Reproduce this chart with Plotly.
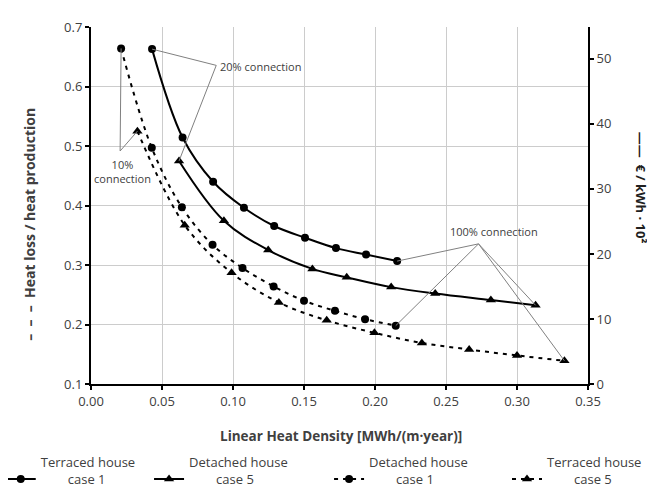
import plotly.graph_objects as go

# ---------------- data ----------------
x_terraced_c1 = [0.043, 0.0645, 0.086, 0.1077, 0.129, 0.1507, 0.1725, 0.1937, 0.2156]
cost_terraced_c1 = [51.5, 37.9, 31.1, 27.1, 24.3, 22.5, 20.9, 19.9, 18.9]

x_detached_c5 = [0.062, 0.0936, 0.1248, 0.1559, 0.1801, 0.2114, 0.2424, 0.2816, 0.3131]
cost_detached_c5 = [34.3, 25.1, 20.6, 17.7, 16.4, 14.9, 13.9, 12.9, 12.1]

x_detached_c1 = [0.0212, 0.0428, 0.064, 0.0856, 0.1067, 0.1286, 0.150, 0.1718, 0.193, 0.2146]
loss_detached_c1 = [0.664, 0.497, 0.397, 0.334, 0.295, 0.264, 0.240, 0.223, 0.209, 0.198]

x_terraced_c5 = [0.0327, 0.066, 0.099, 0.1323, 0.166, 0.1996, 0.233, 0.2663, 0.300, 0.3334]
loss_terraced_c5 = [0.525, 0.367, 0.287, 0.237, 0.207, 0.186, 0.169, 0.158, 0.148, 0.139]

series_names = ["Terraced house", "Detached house", "Detached house", "Terraced house"]
series_cases = ["case 1", "case 5", "case 1", "case 5"]

x_ticks = [0.00, 0.05, 0.10, 0.15, 0.20, 0.25, 0.30, 0.35]
left_ticks = [0.1, 0.2, 0.3, 0.4, 0.5, 0.6, 0.7]
right_ticks = [0, 10, 20, 30, 40, 50]

# ---------------- style ----------------
FONT = "Open Sans"
TXT = "#404040"
GRID = "#cccccc"
DASH = "4px,5px"
Y_RANGE = [0.1, 0.7]
Y2_RANGE = [0, 54.9]


def y2_to_y(v):
    return Y_RANGE[0] + (v - Y2_RANGE[0]) / (Y2_RANGE[1] - Y2_RANGE[0]) * (Y_RANGE[1] - Y_RANGE[0])


def label(i):
    pad = "\u00a0" * 8
    return f"{series_names[i]}<br>{pad}{series_cases[i]}"


fig = go.Figure()

fig.add_trace(go.Scatter(
    x=x_terraced_c1, y=cost_terraced_c1, yaxis="y2", name=label(0), legend="legend",
    mode="lines+markers", line=dict(color="black", width=2, shape="spline"),
    marker=dict(symbol="circle", size=8, color="black")))
fig.add_trace(go.Scatter(
    x=x_detached_c5, y=cost_detached_c5, yaxis="y2", name=label(1), legend="legend2",
    mode="lines+markers", line=dict(color="black", width=2, shape="spline"),
    marker=dict(symbol="triangle-up", size=9, color="black")))
fig.add_trace(go.Scatter(
    x=x_detached_c1, y=loss_detached_c1, yaxis="y", name=label(2), legend="legend3",
    mode="lines+markers", line=dict(color="black", width=2, dash=DASH, shape="spline"),
    marker=dict(symbol="circle", size=8, color="black")))
fig.add_trace(go.Scatter(
    x=x_terraced_c5, y=loss_terraced_c5, yaxis="y", name=label(3), legend="legend4",
    mode="lines+markers", line=dict(color="black", width=2, dash=DASH, shape="spline"),
    marker=dict(symbol="triangle-up", size=9, color="black")))

# ---------------- callout lines ----------------
shapes = []
callout = dict(color="#808080", width=1)

hub20 = (0.0882, 49.0)  # in x / y2 units
for xs, ys in [(x_terraced_c1, cost_terraced_c1), (x_detached_c5, cost_detached_c5)]:
    shapes.append(dict(type="line", xref="x", yref="y2", x0=hub20[0], y0=hub20[1],
                       x1=xs[0], y1=ys[0], line=callout))

hub10 = (0.0205, 0.4916)  # in x / y units
for xs, ys in [(x_detached_c1, loss_detached_c1), (x_terraced_c5, loss_terraced_c5)]:
    shapes.append(dict(type="line", xref="x", yref="y", x0=hub10[0], y0=hub10[1],
                       x1=xs[0], y1=ys[0], line=callout))

hub100 = (0.2729, 21.55)  # in x / y2 units
for xs, ys in [(x_terraced_c1, cost_terraced_c1), (x_detached_c5, cost_detached_c5)]:
    shapes.append(dict(type="line", xref="x", yref="y2", x0=hub100[0], y0=hub100[1],
                       x1=xs[-1], y1=ys[-1], line=callout))
for xs, ys in [(x_detached_c1, loss_detached_c1), (x_terraced_c5, loss_terraced_c5)]:
    shapes.append(dict(type="line", xref="x", yref="y", x0=hub100[0], y0=y2_to_y(hub100[1]),
                       x1=xs[-1], y1=ys[-1], line=callout))

afont = dict(family=FONT, size=11, color=TXT)
annotations = [
    dict(x=0.0896, y=0.6328, xref="x", yref="y", text="20% connection", showarrow=False,
         xanchor="left", yanchor="middle", font=afont),
    dict(x=0.0219, y=0.457, xref="x", yref="y", text="10%<br>connection", showarrow=False,
         xanchor="center", yanchor="middle", align="center", font=afont),
    dict(x=0.2835, y=0.3555, xref="x", yref="y", text="100% connection", showarrow=False,
         xanchor="center", yanchor="middle", font=afont),
    # axis titles
    dict(x=0.504, y=-0.147, xref="paper", yref="paper", text="Linear Heat Density [MWh/(m·year)]",
         showarrow=False, xanchor="center", yanchor="middle",
         font=dict(family=FONT, size=13.5, color=TXT, weight="bold")),
    dict(x=-0.1227, y=0.446, xref="paper", yref="paper", text="–  –  –  Heat loss / heat production",
         showarrow=False, xanchor="center", yanchor="middle", textangle=-90,
         font=dict(family=FONT, size=14, color=TXT, weight="bold")),
    dict(x=1.1066, y=0.55, xref="paper", yref="paper", text="——  € / kWh · 10²",
         showarrow=False, xanchor="center", yanchor="middle", textangle=90,
         font=dict(family=FONT, size=13, color="#202020", weight="bold")),
]

tickfont = dict(family=FONT, size=13, color=TXT)
legfont = dict(family=FONT, size=13, color=TXT)
leg_common = dict(orientation="v", xanchor="left", yanchor="top", y=-0.177,
                  bgcolor="rgba(0,0,0,0)", font=legfont, valign="bottom", borderwidth=0)

fig.update_layout(
    width=655, height=488,
    margin=dict(l=83, r=75, t=19, b=112, autoexpand=False),
    paper_bgcolor="white", plot_bgcolor="white",
    font=dict(family=FONT, color=TXT),
    showlegend=True,
    legend=dict(x=-0.1816, **leg_common),
    legend2=dict(x=0.1168, **leg_common),
    legend3=dict(x=0.479, **leg_common),
    legend4=dict(x=0.837, **leg_common),
    xaxis=dict(range=[0, 0.35], tickvals=x_ticks, tickformat=".2f", showgrid=True,
               gridcolor=GRID, gridwidth=1, zeroline=False, showline=True, linecolor="black",
               linewidth=2, ticks="outside", ticklen=4, tickcolor="black", tickwidth=1.5,
               tickfont=tickfont),
    yaxis=dict(range=Y_RANGE, tickvals=left_ticks, tickformat=".1f", showgrid=True,
               gridcolor=GRID, gridwidth=1, zeroline=False, showline=True, linecolor="black",
               linewidth=2, ticks="outside", ticklen=4, tickcolor="black", tickwidth=1.5,
               tickfont=tickfont),
    yaxis2=dict(range=Y2_RANGE, tickvals=right_ticks, overlaying="y", side="right",
                showgrid=False, zeroline=False, showline=True, linecolor="black", linewidth=2,
                ticks="outside", ticklen=4, tickcolor="black", tickwidth=1.5, tickfont=tickfont),
    shapes=shapes,
    annotations=annotations,
)

fig.write_html("out.html")
